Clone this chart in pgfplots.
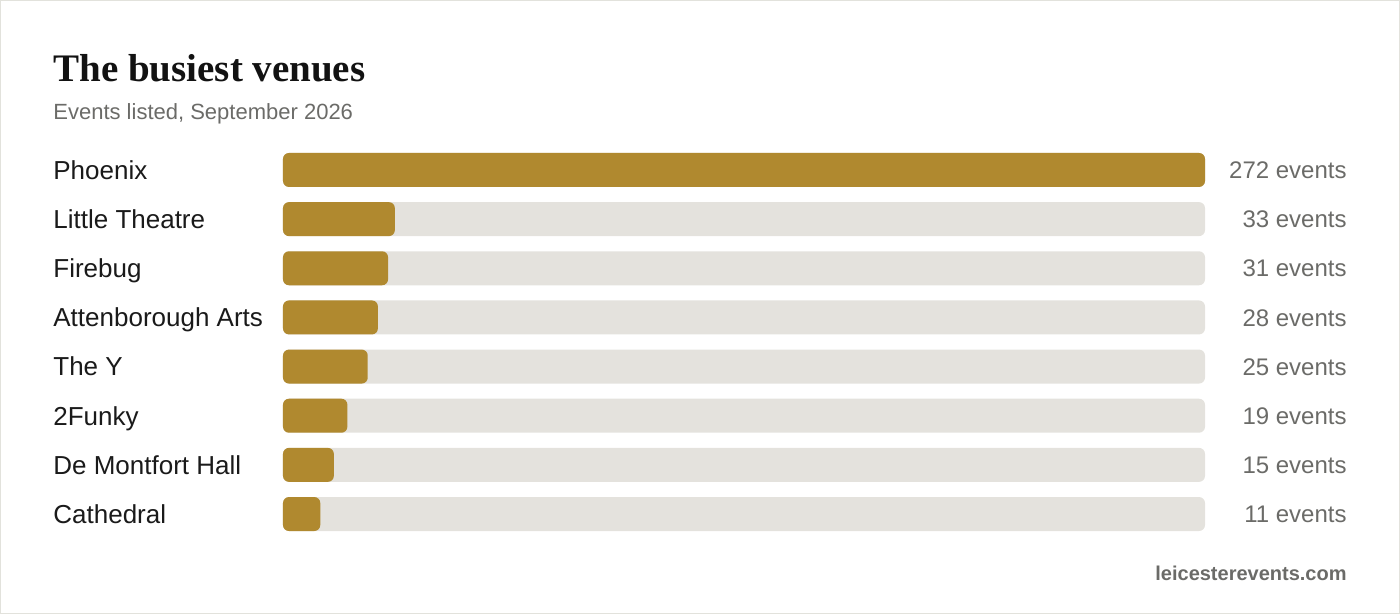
\documentclass[border=0pt]{standalone}
\usepackage{fontspec}
\setmainfont{Liberation Sans}
\newfontfamily\titlefont{Liberation Serif}
\usepackage{pgfplots}
\usepackage{pgfplotstable}
\pgfplotsset{compat=1.18}

\definecolor{barcol}{HTML}{B0892F}
\definecolor{trackcol}{HTML}{E4E2DD}
\definecolor{labelcol}{HTML}{1A1A1A}
\definecolor{valcol}{HTML}{6B6B68}
\definecolor{framecol}{HTML}{E2E2DC}

% venue counts, September 2026
\pgfplotstableread{
idx name                 val track
0   Phoenix              272 272
1   {Little Theatre}     33  272
2   Firebug              31  272
3   {Attenborough Arts}  28  272
4   {The Y}              25  272
5   2Funky               19  272
6   {De Montfort Hall}   15  272
7   Cathedral            11  272
}\venues

\begin{document}
\begin{tikzpicture}
	\begin{axis}[scale only axis,
							width=461pt,
							height=196.6pt,
							xbar,
							bar width=17pt,
							xmin=0, xmax=272,
							ymin=-0.5, ymax=7.5,
							y dir=reverse,
							axis line style={draw=none},
							major tick length=0pt,
							xtick=\empty,
							ytick={0,...,7},
							yticklabels from table={\venues}{name},
							yticklabel style={anchor=west, xshift=-115pt, inner sep=0pt,
								font=\fontsize{13pt}{15pt}\selectfont, text=labelcol,
								text height=9.3pt, text depth=0pt},
							clip=false,
							]
		\addplot[fill=trackcol, draw=none, rounded corners=3pt, bar shift=0pt,
			point meta=explicit,
			nodes near coords={\pgfmathprintnumber[assume math mode=true]{\pgfplotspointmeta} events},
			nodes near coords style={anchor=east, xshift=71pt, inner sep=0pt,
				font=\fontsize{12pt}{14pt}\selectfont, text=valcol,
				text height=8.6pt, text depth=0pt}]
			table[x=track, y=idx, meta=val] {\venues};
		\addplot[fill=barcol, draw=none, rounded corners=3pt, bar shift=0pt]
			table[x=val, y=idx] {\venues};
	\end{axis}
	% page frame and text around the axis
	\path[use as bounding box] (-141.5pt,-37.7pt) rectangle (558.5pt,269.3pt);
	\draw[framecol, line width=0.5pt] (-141.25pt,-37.45pt) rectangle (558.25pt,269.05pt);
	\node[anchor=base west, inner sep=0pt, text=black!93]
		at (-115pt,228.3pt) {\titlefont\bfseries\fontsize{19.5pt}{22pt}\selectfont The busiest venues};
	\node[anchor=base west, inner sep=0pt, text=valcol]
		at (-115pt,209.3pt) {\fontsize{11pt}{13pt}\selectfont Events listed, September 2026};
	\node[anchor=base east, inner sep=0pt, text=valcol]
		at (532pt,-21.2pt) {\bfseries\fontsize{10pt}{12pt}\selectfont leicesterevents.com};
\end{tikzpicture}
\end{document}
